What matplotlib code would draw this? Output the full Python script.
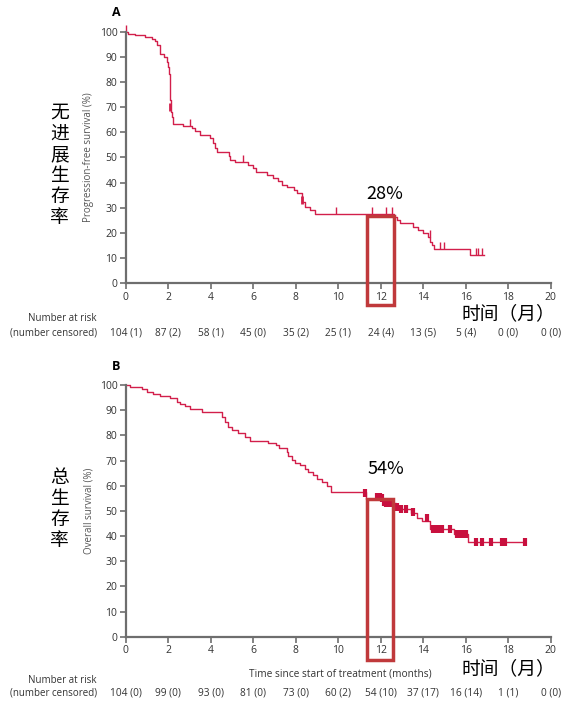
import matplotlib
matplotlib.use("Agg")
import matplotlib.pyplot as plt
from matplotlib.patches import Rectangle

plt.rcParams["font.family"] = ["Open Sans", "Noto Sans CJK SC", "DejaVu Sans"]

# Progression-free survival (A)
pfs_t = [0, 0.1, 0.44, 0.91, 1.22, 1.38, 1.48, 1.63, 1.8, 1.93, 2.0, 2.05,
         2.08, 2.1, 2.13, 2.16, 2.23, 2.7, 3.1, 3.26, 3.5, 3.97, 4.1, 4.2,
         4.3, 4.84, 4.9, 5.14, 5.77, 6.0, 6.13, 6.63, 6.93, 7.17, 7.34, 7.58,
         7.9, 8.05, 8.28, 8.44, 8.67, 8.9, 12.65, 12.76, 12.9, 13.5, 13.77,
         14.0, 14.24, 14.3, 14.43, 14.52, 16.2, 16.86]
pfs_s = [100, 99, 98.5, 98, 97, 96.4, 94.8, 91, 90, 88, 86, 83,
         78, 73, 68, 66, 63.4, 62.4, 61.6, 60.5, 59, 57.8, 55.8, 53.8,
         52, 50.4, 49, 48.3, 47, 45.7, 44.4, 43, 42, 40.5, 39, 38.2,
         37, 35.7, 32.5, 30.5, 29, 27.5, 26.4, 25, 23.8, 22.4, 21,
         19.8, 18.5, 16.5, 15.1, 13.5, 11.2, 11.2]
pfs_cens_t = [0, 3.03, 5.54, 9.88, 11.6, 12.25, 12.55, 14.3,
              14.8, 15.0, 16.5, 16.6, 16.75]
pfs_cens_s = [100, 62.4, 48.3, 27.5, 27.5, 27.5, 27.5, 18.5,
              13.5, 13.5, 11.2, 11.2, 11.2]
# censor marks sitting on vertical drops (drawn as small blocks)
pfs_block_t = [2.07, 8.3]
pfs_block_s = [70, 33]
pfs_risk = ["104 (1)", "87 (2)", "58 (1)", "45 (0)", "35 (2)", "25 (1)",
            "24 (4)", "13 (5)", "5 (4)", "0 (0)", "0 (0)"]

# Overall survival (B)
os_t = [0, 0.2, 0.75, 0.99, 1.3, 1.6, 2.08, 2.4, 2.55, 2.8, 3.03, 3.58,
        4.52, 4.67, 4.83, 4.99, 5.3, 5.61, 5.85, 6.71, 7.07, 7.23, 7.58,
        7.66, 7.82, 7.97, 8.2, 8.44, 8.6, 8.8, 8.99, 9.22, 9.46, 9.65,
        11.3, 12.1, 12.7, 13.45, 13.7, 13.93, 14.3, 15.45, 16.12, 18.8]
os_s = [100, 99.3, 98.3, 97.2, 96.4, 95.6, 94.7, 93.4, 92.5, 91.6, 90.6, 89.4,
        87.4, 85.4, 83.4, 82, 80.9, 79.4, 77.8, 77.0, 76.1, 74.8, 73.4,
        71.7, 70.2, 69.1, 68.2, 66.8, 65.5, 64.2, 62.8, 61.5, 59.8, 57.3,
        54.9, 53.2, 50.6, 49.1, 47.0, 46.1, 42.8, 41.0, 37.6, 37.6]
os_cens_t = [11.26, 11.85, 11.95, 12.05, 12.15, 12.25, 12.35, 12.45, 12.75,
             12.95, 13.2, 13.5, 14.2, 14.45, 14.6, 14.75, 14.9, 15.25, 15.6,
             15.75, 15.9, 16.0, 16.5, 16.75, 17.2, 17.7, 17.85, 18.78]
os_cens_s = [56.9, 55.5, 55.5, 55.3, 53.5, 53.2, 53.2, 53.2, 51.5,
             50.6, 50.6, 49.4, 47.0, 42.8, 42.8, 42.8, 42.8, 42.8, 41.0,
             41.0, 41.0, 41.0, 37.6, 37.6, 37.6, 37.6, 37.6, 37.6]
os_risk = ["104 (0)", "99 (0)", "93 (0)", "81 (0)", "73 (0)", "60 (2)",
           "54 (10)", "37 (17)", "16 (14)", "1 (1)", "0 (0)"]

risk_x = list(range(0, 21, 2))

curve_col = "#d21f4b"
box_col = "#c0393b"
axis_col = "#6e6e6e"
txt_col = "#333333"
cjk = ["Noto Sans CJK SC", "DejaVu Sans"]

fig = plt.figure(figsize=(5.7, 7.08), dpi=100)


def style_axes(ax):
    ax.set_xlim(0, 20)
    ax.set_ylim(0, 100)
    ax.set_xticks(range(0, 21, 2))
    ax.set_yticks(range(0, 101, 10))
    for s in ["top", "right"]:
        ax.spines[s].set_visible(False)
    for s in ["left", "bottom"]:
        ax.spines[s].set_color(axis_col)
        ax.spines[s].set_linewidth(1.6)
    ax.tick_params(direction="out", length=4, width=1.2, color=axis_col,
                   labelsize=7.5, labelcolor=txt_col, pad=2)


def risk_table(ax, labels, y_ax, y_top, y_bot):
    for x, lab in zip(risk_x, labels):
        ax.text(x, y_ax, lab, transform=ax.get_xaxis_transform(),
                ha="center", va="center", fontsize=7.3, color=txt_col)
    fig.text(0.170, y_top, "Number at risk", ha="right", va="center",
             fontsize=7, color=txt_col)
    fig.text(0.170, y_bot, "(number censored)", ha="right", va="center",
             fontsize=7, color=txt_col)


# ---- panel A ----
axA = fig.add_axes([0.2205, 0.5999, 0.7456, 0.3553])
style_axes(axA)
axA.step(pfs_t, pfs_s, where="post", color=curve_col, lw=1.0, clip_on=False)
axA.plot(pfs_cens_t, pfs_cens_s, ls="none", marker=2, ms=5, mew=1.0,
         color=curve_col, clip_on=False)
axA.plot(pfs_block_t, pfs_block_s, ls="none", marker="|", ms=6, mew=2.0,
         color=curve_col, clip_on=False)
axA.set_ylabel("Progression-free survival (%)", fontsize=7, color="#555555",
               labelpad=4)
axA.add_patch(Rectangle((11.37, -8.6), 1.25, 35.5, fill=False, ec=box_col,
                        lw=2.5, clip_on=False, zorder=5))
axA.text(12.2, 35.5, "28%", ha="center", va="center", fontsize=13,
         family=cjk)
axA.text(15.8, -11.9, "时间（月）", ha="left", va="center", fontsize=13.5,
         family=cjk)
risk_table(axA, pfs_risk, -0.1975, 0.5508, 0.5297)
fig.text(0.105, 0.767, "无\n进\n展\n生\n存\n率", ha="center", va="center",
         fontsize=13.5, linespacing=1.0, family=cjk)
fig.text(0.197, 0.982, "A", ha="left", va="center", fontsize=9,
         fontweight="bold")

# ---- panel B ----
axB = fig.add_axes([0.2205, 0.1007, 0.7456, 0.3555])
style_axes(axB)
axB.step(os_t, os_s, where="post", color=curve_col, lw=1.0, clip_on=False)
axB.plot(os_cens_t, os_cens_s, ls="none", marker="|", ms=6, mew=3.0,
         color="#c8103e", clip_on=False)
axB.set_ylabel("Overall survival (%)", fontsize=7, color="#555555",
               labelpad=4)
axB.set_xlabel("Time since start of treatment (months)", fontsize=7.3,
               color=txt_col, labelpad=3)
axB.xaxis.set_label_coords(0.505, -0.125)
axB.add_patch(Rectangle((11.34, -9.3), 1.26, 63.9, fill=False, ec=box_col,
                        lw=2.5, clip_on=False, zorder=5))
axB.text(12.25, 66.5, "54%", ha="center", va="center", fontsize=13,
         family=cjk)
axB.text(15.8, -12.6, "时间（月）", ha="left", va="center", fontsize=13.5,
         family=cjk)
risk_table(axB, os_risk, -0.224, 0.0395, 0.0212)
fig.text(0.105, 0.281, "总\n生\n存\n率", ha="center", va="center",
         fontsize=13.5, linespacing=1.0, family=cjk)
fig.text(0.197, 0.483, "B", ha="left", va="center", fontsize=9,
         fontweight="bold")

fig.savefig("out.png", dpi=100)
